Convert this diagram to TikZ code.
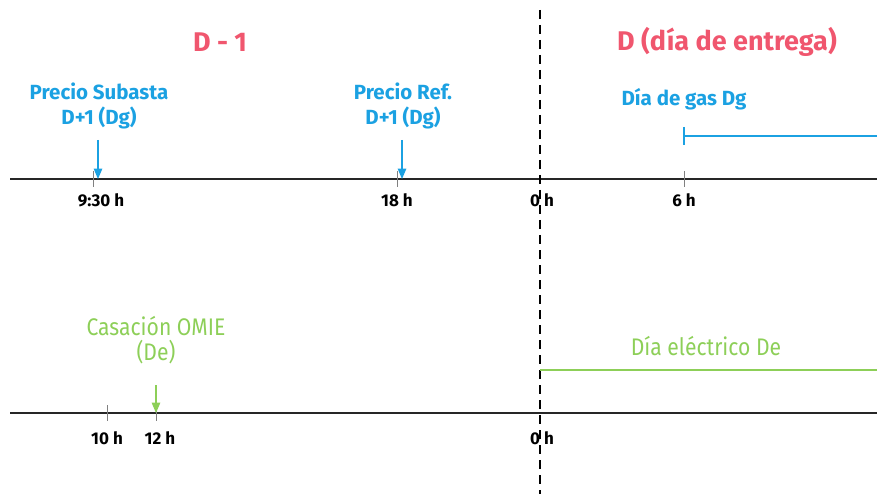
\documentclass[tikz,border=0pt]{standalone}
\usepackage{fontspec}
\setmainfont{Fira Sans}
\newfontfamily\narrowfont{Fira Sans}[FakeStretch=0.88]
\usetikzlibrary{arrows}
\definecolor{rojo}{HTML}{F0566E}
\definecolor{azul}{HTML}{1BA1E2}
\definecolor{verde}{HTML}{8DCF58}
\begin{document}
\begin{tikzpicture}[x=1pt,y=-1pt,>=triangle 45]
\tikzstyle{title}=[text=rojo,font=\fontsize{27}{30}\selectfont\bfseries]
\tikzstyle{gas}=[text=azul,font=\fontsize{20.5}{25}\selectfont\bfseries,align=center,inner sep=0pt]
\tikzstyle{elec}=[text=verde,font=\fontsize{24}{25}\selectfont\narrowfont,align=center,inner sep=0pt]
\tikzstyle{hour}=[text=black,font=\fontsize{17}{19}\selectfont\bfseries,inner sep=0pt]
\tikzstyle{axis}=[draw=black!85,line width=1.6pt]
\tikzstyle{tick}=[draw=gray,line width=1pt]
\useasboundingbox (0,0) rectangle (877,494);
% titulos
\node[title] (DM) at (220,42) {D - 1};
\node[title] (DD) at (727,42) {D (día de entrega)};
% ejes
\coordinate (A0) at (10,179); \coordinate (A1) at (877,179);
\coordinate (B0) at (10,413); \coordinate (B1) at (877,413);
\draw[axis] (A0) -- (A1);
\draw[axis] (B0) -- (B1);
% marcas
\draw[tick] (93,171) -- (93,187);
\draw[tick] (397,171) -- (397,187);
\draw[tick] (684,171) -- (684,187);
\draw[tick] (107,405) -- (107,421);
\draw[tick] (156,405) -- (156,421);
% horas
\node[hour] (H930) at (101,200) {9:30 h};
\node[hour] (H18) at (397,200) {18 h};
\node[hour] (H0a) at (542,200) {0 h};
\node[hour] (H6) at (684,200) {6 h};
\node[hour] (H10) at (107,438) {10 h};
\node[hour] (H12) at (160,438) {12 h};
\node[hour] (H0b) at (542,438) {0 h};
% linea D
\coordinate (D0) at (540,10); \coordinate (D1) at (540,494);
\draw[line width=1.8pt,dash pattern=on 9pt off 6pt] (D0) -- (D1);
% dia de gas
\node[gas] (PS) at (99,106) {Precio Subasta\\D+1 (Dg)};
\node[gas] (PR) at (403,106) {Precio Ref.\\D+1 (Dg)};
\node[gas] (DG) at (684,99) {Día de gas Dg};
\coordinate (ps0) at (98,140); \coordinate (ps1) at (98,179);
\coordinate (pr0) at (402,140); \coordinate (pr1) at (402,179);
\draw[->,azul,line width=1.4pt] (ps0) -- (ps1);
\draw[->,azul,line width=1.4pt] (pr0) -- (pr1);
\coordinate (g0) at (684,136); \coordinate (g1) at (877,136);
\draw[azul,line width=1.2pt] (g0) -- (g1);
\draw[azul,line width=1.2pt] (684,127) -- (684,145);
% dia electrico
\node[elec] (CO) at (156,340) {Casación OMIE\\(De)};
\node[elec] (DE) at (706,346) {Día eléctrico De};
\coordinate (co0) at (156,385); \coordinate (co1) at (156,413);
\draw[->,verde,line width=1.4pt] (co0) -- (co1);
\coordinate (e0) at (540,370); \coordinate (e1) at (877,370);
\draw[verde,line width=1.4pt] (e0) -- (e1);
\end{tikzpicture}
\end{document}
